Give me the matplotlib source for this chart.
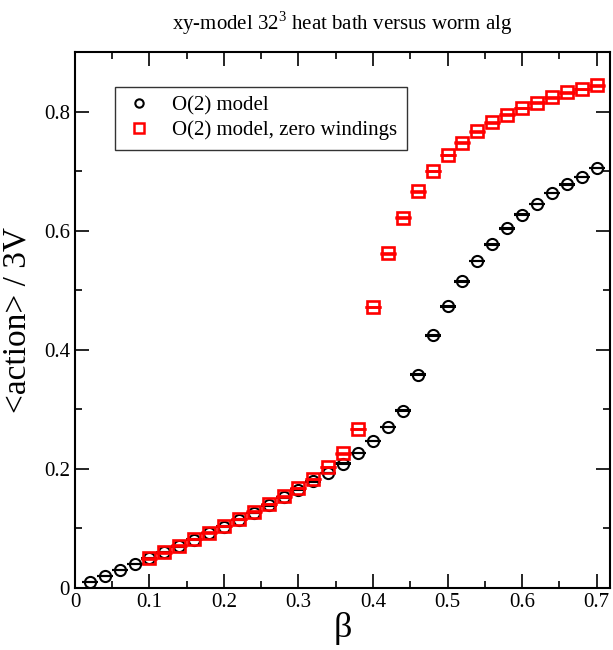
import matplotlib

matplotlib.use("Agg")
import matplotlib.pyplot as plt
from matplotlib.lines import Line2D

plt.rcParams["font.family"] = ["Liberation Serif", "DejaVu Serif"]
plt.rcParams["mathtext.fontset"] = "custom"
plt.rcParams["mathtext.rm"] = "Liberation Serif"

beta_o2 = [0.02, 0.04, 0.06, 0.08, 0.10, 0.12, 0.14, 0.16, 0.18, 0.20, 0.22, 0.24,
           0.26, 0.28, 0.30, 0.32, 0.34, 0.36, 0.38, 0.40, 0.42, 0.44, 0.46, 0.48,
           0.50, 0.52, 0.54, 0.56, 0.58, 0.60, 0.62, 0.64, 0.66, 0.68, 0.70]
action_o2 = [0.010, 0.020, 0.030, 0.040, 0.050, 0.060, 0.070, 0.081, 0.092, 0.103,
             0.114, 0.126, 0.139, 0.152, 0.165, 0.179, 0.193, 0.209, 0.227, 0.247,
             0.270, 0.298, 0.358, 0.424, 0.473, 0.515, 0.549, 0.577, 0.604, 0.627,
             0.645, 0.663, 0.678, 0.690, 0.705]

beta_zw = [0.10, 0.12, 0.14, 0.16, 0.18, 0.20, 0.22, 0.24, 0.26, 0.28, 0.30, 0.32,
           0.34, 0.36, 0.38, 0.40, 0.42, 0.44, 0.46, 0.48, 0.50, 0.52, 0.54, 0.56,
           0.58, 0.60, 0.62, 0.64, 0.66, 0.68, 0.70]
action_zw = [0.050, 0.060, 0.071, 0.082, 0.093, 0.104, 0.116, 0.128, 0.141, 0.154,
             0.168, 0.183, 0.203, 0.226, 0.267, 0.472, 0.562, 0.622, 0.666, 0.700,
             0.727, 0.748, 0.767, 0.782, 0.795, 0.806, 0.815, 0.824, 0.832, 0.838,
             0.844]

fig = plt.figure(figsize=(6.13, 6.5), dpi=100)
ax = fig.add_axes([0.1223, 0.0954, 0.8727, 0.8246])

err_o2 = [0.0005] * len(beta_o2)
err_zw = [0.0005] * len(beta_zw)

ax.errorbar(beta_o2, action_o2, yerr=err_o2, fmt="o", ms=8, mfc="none", mec="black",
            mew=1.5, ecolor="black", elinewidth=1.0, capsize=6, capthick=1.3, zorder=3)
ax.errorbar(beta_zw, action_zw, yerr=err_zw, fmt="s", ms=9, mfc="none", mec="red",
            mew=1.9, ecolor="red", elinewidth=1.0, capsize=6, capthick=1.3, zorder=4)

ax.set_xlim(0, 0.718)
ax.set_ylim(0, 0.9)
ax.set_xticks([0, 0.1, 0.2, 0.3, 0.4, 0.5, 0.6, 0.7])
ax.set_xticklabels(["0", "0.1", "0.2", "0.3", "0.4", "0.5", "0.6", "0.7"])
ax.set_xticks([0.05, 0.15, 0.25, 0.35, 0.45, 0.55, 0.65], minor=True)
ax.set_yticks([0, 0.2, 0.4, 0.6, 0.8])
ax.set_yticklabels(["0", "0.2", "0.4", "0.6", "0.8"])
ax.set_yticks([0.1, 0.3, 0.5, 0.7], minor=True)
ax.tick_params(which="both", direction="in", top=True, right=True, labelsize=15, width=1.2)
ax.tick_params(which="major", length=10)
ax.tick_params(which="minor", length=5)
for s in ax.spines.values():
    s.set_linewidth(1.5)

ax.set_xlabel(r"β", fontsize=26, labelpad=0)
ax.set_ylabel("<action> / 3V", fontsize=24, labelpad=8)
ax.set_title(r"xy-model 32$^3$ heat bath versus worm alg", fontsize=15, pad=16)

handles = [
    Line2D([], [], ls="none", marker="o", ms=6, mfc="none", mec="black", mew=1.5),
    Line2D([], [], ls="none", marker="s", ms=6.5, mfc="none", mec="red", mew=1.8),
]
leg = ax.legend(handles, ["O(2) model", "O(2) model, zero windings"],
                loc="upper left", bbox_to_anchor=(0.055, 0.955), fontsize=15,
                frameon=True, fancybox=False, edgecolor="black", handlelength=1.4,
                handletextpad=0.9, borderpad=0.45, labelspacing=0.25)
leg.get_frame().set_linewidth(1.0)

fig.savefig("out.png", dpi=100)
